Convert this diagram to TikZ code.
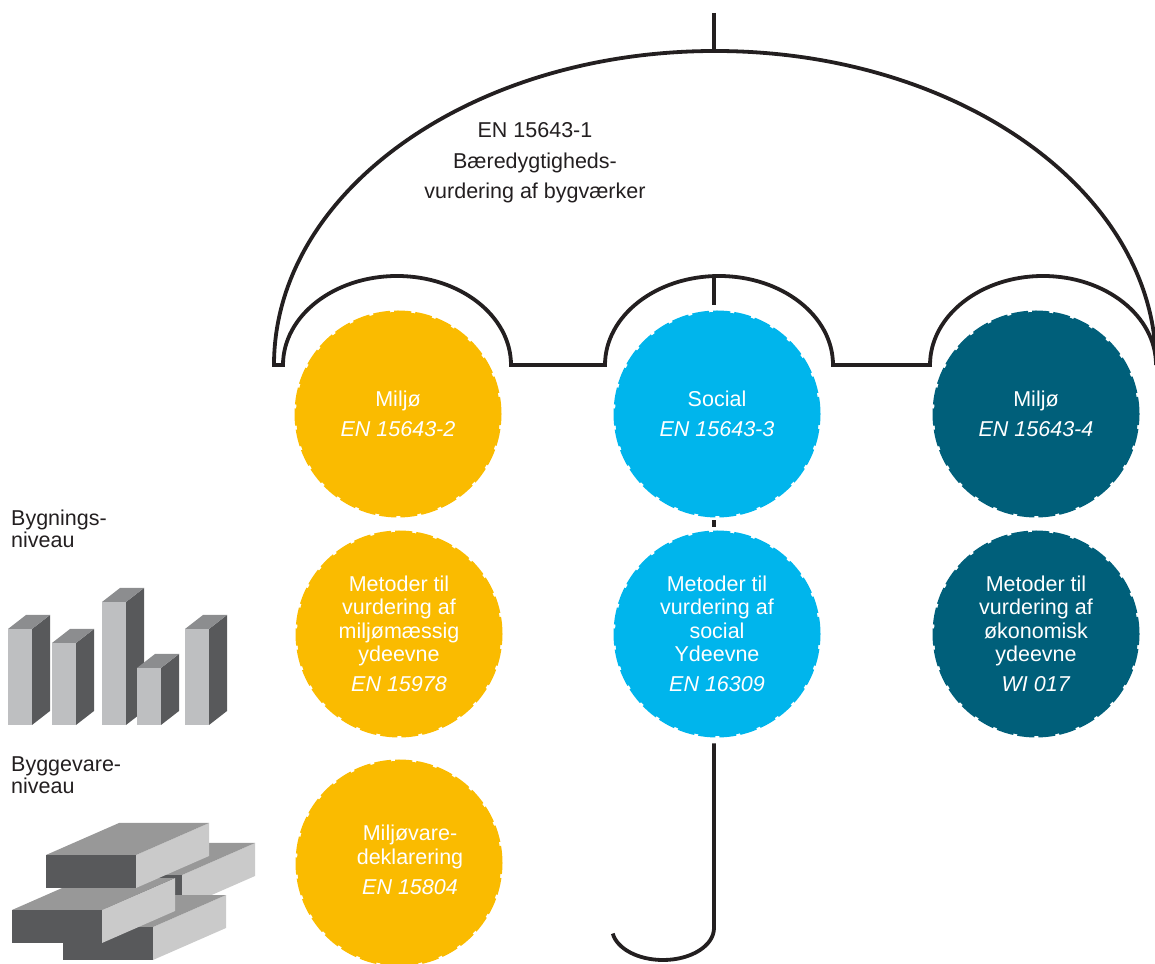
\documentclass[tikz,border=0pt]{standalone}
\usepackage{fontspec}
\setmainfont{Liberation Sans}
\usetikzlibrary{positioning}

\definecolor{miljo}{RGB}{250,187,0}
\definecolor{social}{RGB}{0,181,236}
\definecolor{okonomi}{RGB}{0,95,122}
\definecolor{umbrella}{RGB}{35,31,32}
\definecolor{lightgrey}{RGB}{190,191,193}
\definecolor{midgrey}{RGB}{140,141,143}
\definecolor{darkgrey}{RGB}{88,89,91}
\definecolor{palegrey}{RGB}{202,202,202}
\definecolor{brickgrey}{RGB}{152,152,152}

\tikzset{
  disc/.style={circle,minimum size=204pt,inner sep=0pt,line width=3pt,
    dash pattern=on 17pt off 4pt,text=white,align=center,
    font=\fontsize{21.5}{23.5}\selectfont},
  miljodisc/.style={disc,fill=miljo,draw=miljo},
  socialdisc/.style={disc,fill=social,draw=social},
  okonomidisc/.style={disc,fill=okonomi,draw=okonomi},
  disctext/.style={text=white,align=center,inner sep=0pt,
    font=\fontsize{21.5}{23.5}\selectfont},
  rib/.style={draw=umbrella,line width=3.8pt},
  leveltext/.style={align=left,inner sep=0pt,text=umbrella,
    font=\fontsize{21.5}{22}\selectfont},
}

\newcommand{\drawbrick}[2]{% front lower left corner
  \fill[palegrey] (#1+90,#2) -- ++(73,32) -- ++(0,33) -- ++(-73,-32) -- cycle;
  \fill[brickgrey] (#1,#2+33) -- ++(90,0) -- ++(73,32) -- ++(-90,0) -- cycle;
  \fill[darkgrey] (#1,#2) rectangle ++(90,33);
}

\begin{document}
\begin{tikzpicture}[x=1pt,y=1pt]
  \useasboundingbox (0,0) rectangle (1155,963);

  % Umbrella
  \coordinate (tip) at (714,950);
  \coordinate (crown) at (714,912);
  \coordinate (midtop) at (714,687);
  \coordinate (bend) at (714,35);
  \draw [rib] (tip) to (crown);
  \draw [rib,line join=miter] (274,598) -- (283,598)
    arc[start angle=180,end angle=0,x radius=114,y radius=89] -- (605,598)
    arc[start angle=180,end angle=0,x radius=114,y radius=89] -- (930,598)
    arc[start angle=180,end angle=0,x radius=113,y radius=89]
    arc[start angle=0,end angle=180,x radius=441,y radius=314] -- cycle;
  \node [align=center,inner sep=0pt,text=umbrella,
    font=\fontsize{21.5}{30.5}\selectfont] (title) at (535,800)
    {EN 15643-1\\Bæredygtigheds-\\vurdering af bygværker};

  % Discs
  \node [miljodisc] (M1) at (398,549) {Miljø\\[6.5pt]\textit{EN 15643-2}};
  \node [socialdisc] (S1) at (717,549) {Social\\[6.5pt]\textit{EN 15643-3}};
  \node [okonomidisc] (O1) at (1036,549) {Miljø\\[6.5pt]\textit{EN 15643-4}};
  \node [miljodisc] (M2) at (399,329) {Metoder til\\vurdering af\\miljømæssig\\ydeevne\\[6.5pt]\textit{EN 15978}};
  \node [socialdisc] (S2) at (717,329) {Metoder til\\vurdering af\\social\\Ydeevne\\[6.5pt]\textit{EN 16309}};
  \node [okonomidisc] (O2) at (1036,329) {Metoder til\\vurdering af\\økonomisk\\ydeevne\\[6.5pt]\textit{WI 017}};
  \node [miljodisc] (M3) at (399,100) {};
  \node [disctext] (M3text) at ([xshift=11pt,yshift=3pt]M3.center)
    {Miljøvare-\\deklarering\\[6.5pt]\textit{EN 15804}};

  % Shaft
  \draw [rib,shorten >=5pt] (midtop) to (midtop |- S1.north);
  \draw [rib,shorten <=3pt,shorten >=3pt] (midtop |- S1.south) to (midtop |- S2.north);
  \draw [rib,shorten <=6pt] (midtop |- S2.south) -- (bend)
    arc[start angle=0,end angle=-170,x radius=51,y radius=32];

  % Levels
  \node [leveltext,anchor=north west] (bygning) at (11,453) {Bygnings-\\niveau};
  \node [leveltext,anchor=north west] (byggevare) at (11,206) {Byggevare-\\niveau};

  \foreach \x/\t in {8/334,52/320,102/361,137/295,185/334}{
    \fill[lightgrey] (\x,238) rectangle (\x+24,\t);
    \fill[darkgrey] (\x+24,238) -- (\x+42,252) -- (\x+42,\t+14) -- (\x+24,\t) -- cycle;
    \fill[midgrey] (\x,\t) -- (\x+18,\t+14) -- (\x+42,\t+14) -- (\x+24,\t) -- cycle;
  }

  \drawbrick{92}{55}
  \drawbrick{63}{3}
  \drawbrick{12}{20}
  \drawbrick{46}{75}
\end{tikzpicture}
\end{document}
